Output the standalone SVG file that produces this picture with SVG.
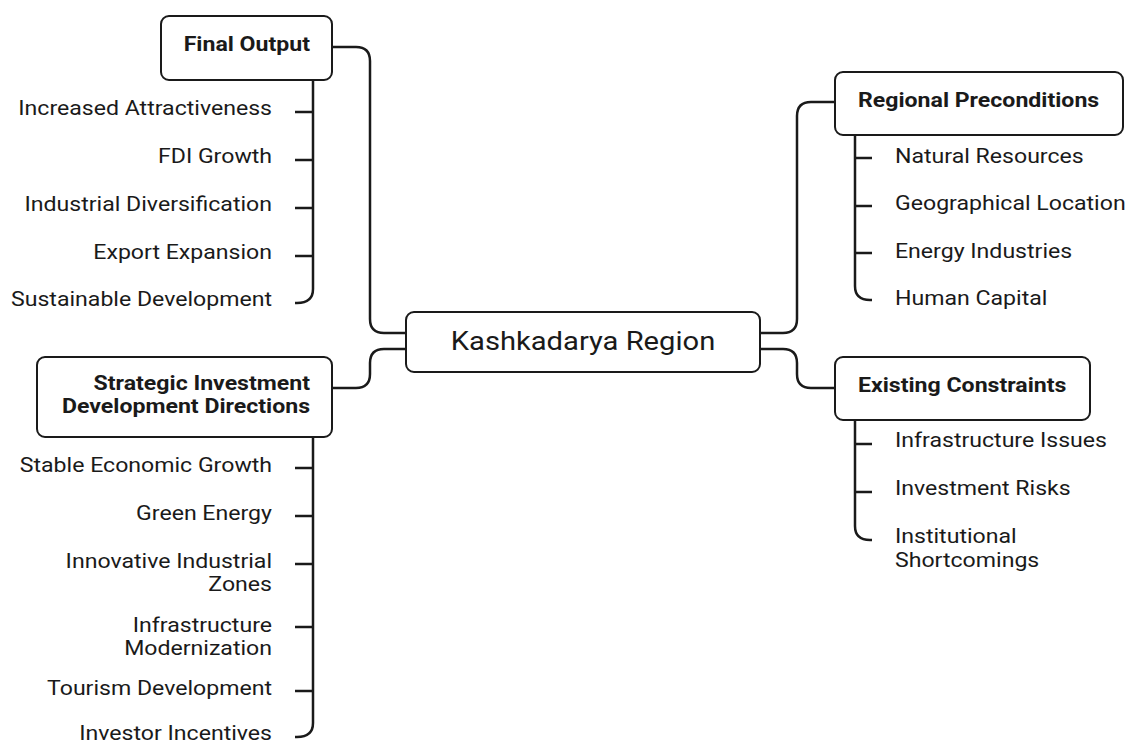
<svg xmlns="http://www.w3.org/2000/svg" width="1129" height="743" viewBox="0 0 1129 743">
  <style>
    .box { fill: #ffffff; stroke: #1a1a1a; stroke-width: 2; }
    .wire { fill: none; stroke: #1a1a1a; stroke-width: 2.5; stroke-linecap: butt; stroke-linejoin: round; }
    text { font-family: Roboto, "Liberation Sans", sans-serif; fill: #1a1a1a; }
    .head { font-size: 21px; font-weight: 700; }
    .leaf { font-size: 21px; font-weight: 400; }
    .root { font-size: 26.5px; font-weight: 400; }
    .end { text-anchor: end; }
    .mid { text-anchor: middle; }
  </style>
  <rect width="1129" height="743" fill="#ffffff"/>

  <!-- connectors between the central node and the four branches, plus branch rails and ticks -->
  <g id="connectors">
    <path class="wire" d="M332,47 H356 Q370,47 370,61 V319 Q370,333 384,333 H406"/>
    <path class="wire" d="M406,349 H384 Q370,349 370,363 V374 Q370,388 356,388 H333"/>
    <path class="wire" d="M760,333 H783 Q797,333 797,319 V116 Q797,102 811,102 H835"/>
    <path class="wire" d="M760,349 H783 Q797,349 797,363 V374 Q797,388 811,388 H835"/>

    <!-- Final Output rail -->
    <path class="wire" d="M313,80 V289 Q313,303 297,303 H295"/>
    <path class="wire" d="M295,112 H313 M295,160 H313 M295,208 H313 M295,256 H313"/>

    <!-- Strategic directions rail -->
    <path class="wire" d="M313,437 V723 Q313,737 297,737 H295"/>
    <path class="wire" d="M295,468 H313 M295,516 H313 M295,564 H313 M295,627 H313 M295,691 H313"/>

    <!-- Regional preconditions rail -->
    <path class="wire" d="M855,135 V286 Q855,300 870,300 H872"/>
    <path class="wire" d="M855,158 H872 M855,206 H872 M855,253 H872"/>

    <!-- Existing constraints rail -->
    <path class="wire" d="M855,420 V526 Q855,540 870,540 H872"/>
    <path class="wire" d="M855,444 H872 M855,492 H872"/>
  </g>

  <g id="root">
    <rect class="box" x="406" y="312" width="354" height="60" rx="8"/>
    <text class="root mid" transform="translate(583,350) scale(1.1,1)">Kashkadarya Region</text>
  </g>

  <g id="final-output">
    <rect class="box" x="161" y="16" width="171" height="64" rx="8"/>
    <text class="head end" transform="translate(310,51) scale(1.1,1)">Final Output</text>
  </g>
  <g id="final-output-items">
    <text class="leaf end" transform="translate(272,115) scale(1.1,1)">Increased Attractiveness</text>
    <text class="leaf end" transform="translate(272,163) scale(1.1,1)">FDI Growth</text>
    <text class="leaf end" transform="translate(272,211) scale(1.1,1)">Industrial Diversification</text>
    <text class="leaf end" transform="translate(272,259) scale(1.1,1)">Export Expansion</text>
    <text class="leaf end" transform="translate(272,306) scale(1.1,1)">Sustainable Development</text>
  </g>

  <g id="strategic-directions">
    <rect class="box" x="37" y="357" width="295" height="80" rx="8"/>
    <text class="head end" transform="translate(310,390) scale(1.1,1)">Strategic Investment</text>
    <text class="head end" transform="translate(310,413) scale(1.1,1)">Development Directions</text>
  </g>
  <g id="strategic-directions-items">
    <text class="leaf end" transform="translate(272,472) scale(1.1,1)">Stable Economic Growth</text>
    <text class="leaf end" transform="translate(272,520) scale(1.1,1)">Green Energy</text>
    <text class="leaf end" transform="translate(272,568) scale(1.1,1)">Innovative Industrial</text>
    <text class="leaf end" transform="translate(272,591) scale(1.1,1)">Zones</text>
    <text class="leaf end" transform="translate(272,632) scale(1.1,1)">Infrastructure</text>
    <text class="leaf end" transform="translate(272,655) scale(1.1,1)">Modernization</text>
    <text class="leaf end" transform="translate(272,695) scale(1.1,1)">Tourism Development</text>
    <text class="leaf end" transform="translate(272,740) scale(1.1,1)">Investor Incentives</text>
  </g>

  <g id="regional-preconditions">
    <rect class="box" x="835" y="72" width="288" height="63" rx="8"/>
    <text class="head" transform="translate(858,107) scale(1.1,1)">Regional Preconditions</text>
  </g>
  <g id="regional-preconditions-items">
    <text class="leaf" transform="translate(895,163) scale(1.1,1)">Natural Resources</text>
    <text class="leaf" transform="translate(895,210) scale(1.1,1)">Geographical Location</text>
    <text class="leaf" transform="translate(895,258) scale(1.1,1)">Energy Industries</text>
    <text class="leaf" transform="translate(895,305) scale(1.1,1)">Human Capital</text>
  </g>

  <g id="existing-constraints">
    <rect class="box" x="835" y="357" width="255" height="63" rx="8"/>
    <text class="head" transform="translate(858,392) scale(1.1,1)">Existing Constraints</text>
  </g>
  <g id="existing-constraints-items">
    <text class="leaf" transform="translate(895,447) scale(1.1,1)">Infrastructure Issues</text>
    <text class="leaf" transform="translate(895,495) scale(1.1,1)">Investment Risks</text>
    <text class="leaf" transform="translate(895,543) scale(1.1,1)">Institutional</text>
    <text class="leaf" transform="translate(895,567) scale(1.1,1)">Shortcomings</text>
  </g>
</svg>
